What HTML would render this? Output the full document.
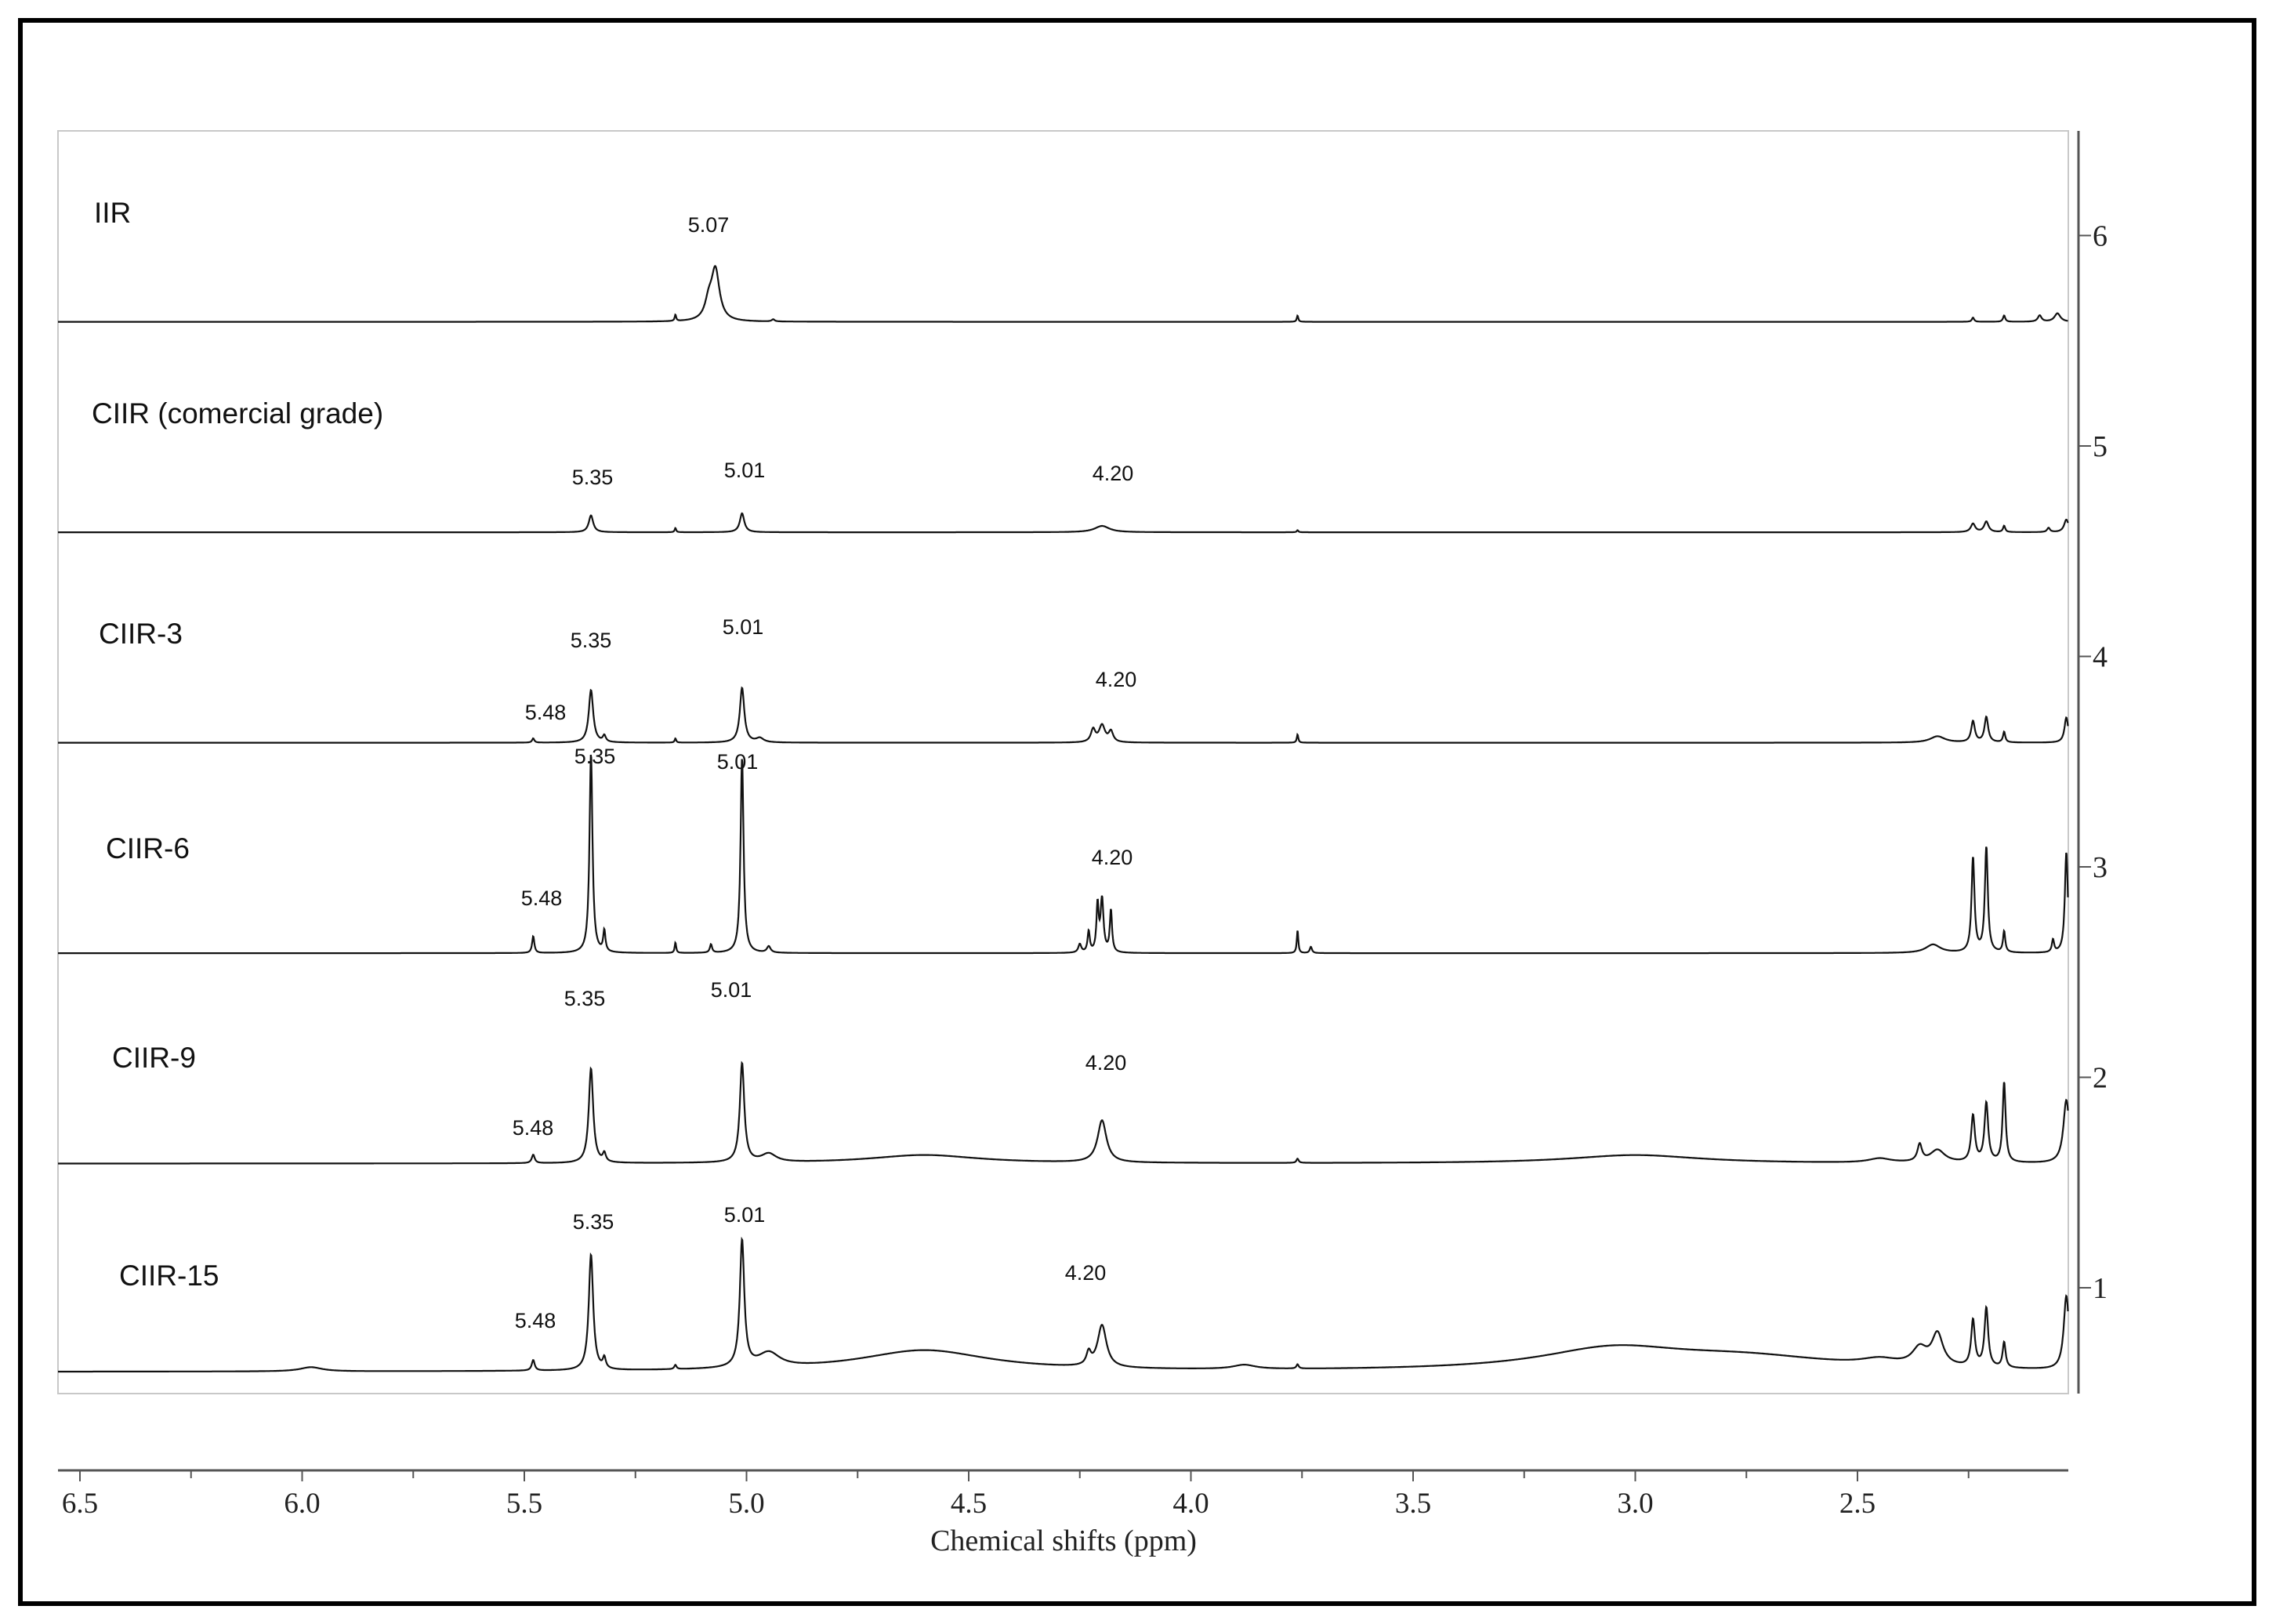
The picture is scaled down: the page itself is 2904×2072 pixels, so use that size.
<!DOCTYPE html>
<html><head><meta charset="utf-8">
<style>
html,body{margin:0;padding:0;background:#fff;}
svg{display:block;}
.ax{font-family:"Liberation Serif",serif;fill:#222;}
.lb{font-family:"Liberation Sans",sans-serif;fill:#111;}
</style></head>
<body>
<svg id="chart" width="2904" height="2072" viewBox="0 0 2904 2072">
<rect x="26" y="26" width="2850" height="2020" fill="none" stroke="#000" stroke-width="6"/>
<rect x="74" y="167" width="2565" height="1611" fill="none" stroke="#c8c8c8" stroke-width="2"/>
<g id="spectra"></g>
<g id="axes"></g>
<g id="labels"></g>
</svg>
<script>
// ---- data ----
const xTicks = [6.5, 6.0, 5.5, 5.0, 4.5, 4.0, 3.5, 3.0, 2.5];
const xTickLabels = ["6.5","6.0","5.5","5.0","4.5","4.0","3.5","3.0","2.5"];
const yTicks = [1,2,3,4,5,6];
const sampleNames = ["IIR","CIIR (comercial grade)","CIIR-3","CIIR-6","CIIR-9","CIIR-15"];
const baselines = [5.59, 4.59, 3.59, 2.59, 1.59, 0.6];
// peaks: [ppm, height (axis units), half-width (ppm)]
const peaksIIR = [[5.07,0.24,0.011],[5.085,0.08,0.01],[5.16,0.03,0.002],[4.94,0.01,0.004],[3.76,0.03,0.002],[2.24,0.02,0.003],[2.17,0.03,0.003],[2.09,0.03,0.005],[2.05,0.04,0.008]];
const peaksCIIR = [[5.35,0.08,0.006],[5.01,0.09,0.006],[5.16,0.02,0.002],[4.20,0.03,0.02],[3.76,0.01,0.002],[2.24,0.04,0.006],[2.21,0.05,0.006],[2.17,0.03,0.003],[2.07,0.02,0.004],[2.03,0.06,0.006]];
const peaksCIIR3 = [[5.48,0.02,0.003],[5.35,0.25,0.006],[5.32,0.03,0.004],[5.16,0.02,0.002],[5.01,0.26,0.006],[4.97,0.02,0.01],[4.22,0.06,0.006],[4.20,0.08,0.008],[4.18,0.05,0.006],[3.76,0.04,0.002],[2.32,0.03,0.02],[2.24,0.1,0.005],[2.21,0.12,0.005],[2.17,0.05,0.003],[2.03,0.12,0.005]];
const peaksCIIR6 = [[5.48,0.08,0.003],[5.35,0.95,0.004],[5.32,0.1,0.003],[5.16,0.05,0.002],[5.08,0.04,0.003],[5.01,0.93,0.004],[4.95,0.03,0.005],[4.23,0.1,0.003],[4.21,0.22,0.003],[4.20,0.25,0.004],[4.18,0.2,0.003],[4.25,0.04,0.004],[3.76,0.11,0.002],[3.73,0.03,0.003],[2.33,0.04,0.02],[2.24,0.45,0.004],[2.21,0.5,0.004],[2.17,0.1,0.003],[2.06,0.06,0.003],[2.03,0.48,0.004]];
const peaksCIIR9 = [[5.48,0.04,0.004],[5.35,0.45,0.006],[5.32,0.04,0.004],[5.01,0.47,0.006],[4.95,0.04,0.02],[4.6,0.04,0.15],[4.20,0.2,0.012],[3.76,0.02,0.003],[3.0,0.04,0.18],[2.45,0.02,0.03],[2.36,0.08,0.006],[2.32,0.06,0.02],[2.24,0.22,0.005],[2.21,0.28,0.005],[2.17,0.38,0.004],[2.03,0.3,0.008]];
const peaksCIIR15 = [[5.98,0.02,0.03],[5.48,0.05,0.004],[5.35,0.55,0.006],[5.32,0.05,0.004],[5.16,0.02,0.003],[5.01,0.6,0.006],[4.95,0.07,0.03],[4.6,0.1,0.18],[4.20,0.2,0.012],[4.23,0.06,0.006],[3.88,0.02,0.03],[3.76,0.02,0.003],[3.05,0.1,0.2],[2.75,0.06,0.25],[2.45,0.03,0.05],[2.36,0.08,0.02],[2.32,0.15,0.015],[2.24,0.22,0.005],[2.21,0.28,0.005],[2.17,0.12,0.004],[2.03,0.35,0.007]];
const allPeaks = [peaksIIR, peaksCIIR, peaksCIIR3, peaksCIIR6, peaksCIIR9, peaksCIIR15];
// peak annotation values per sample
const annIIR = ["5.07"];
const annCIIR = ["5.35","5.01","4.20"];
const annCIIR3 = ["5.48","5.35","5.01","4.20"];
const annCIIR6 = ["5.48","5.35","5.01","4.20"];
const annCIIR9 = ["5.48","5.35","5.01","4.20"];
const annCIIR15 = ["5.48","5.35","5.01","4.20"];

// ---- scales ----
const X0 = 102, PPX = 567;
function xs(p){ return X0 + (6.5 - p) * PPX; }
function ys(v){ return 1643 - (v - 1) * 268.5; }
const NS = "http://www.w3.org/2000/svg";
function mk(tag, attrs, parent){ const e = document.createElementNS(NS, tag); for (const k in attrs) e.setAttribute(k, attrs[k]); parent.appendChild(e); return e; }

const sp = document.getElementById('spectra');
const pMin = (6.5 - (2639 - X0) / PPX), pMax = 6.5 + (X0 - 74) / PPX;
allPeaks.forEach((peaks, i) => {
  let d = "";
  for (let p = pMax; p >= pMin; p -= 0.001) {
    let v = baselines[i];
    for (const pk of peaks) { const dx = p - pk[0]; v += pk[1] * pk[2] * pk[2] / (dx * dx + pk[2] * pk[2]); }
    d += (d ? "L" : "M") + xs(p).toFixed(1) + "," + ys(v).toFixed(1);
  }
  const path = mk('path', {d: d, fill: 'none', stroke: '#111', 'stroke-width': 2.2}, sp);
  
  
});

// ---- axes ----
const ax = document.getElementById('axes');
const xl = mk('line', {x1: 74, x2: 2639, y1: 1876, y2: 1876, stroke: '#555', 'stroke-width': 3}, ax);


for (let t = 6.5; t >= 2.05; t -= 0.25) {
  const major = Math.abs(t * 2 - Math.round(t * 2)) < 1e-6;
  const tk = mk('line', {x1: xs(t), x2: xs(t), y1: 1876, y2: major ? 1890 : 1886, stroke: '#555', 'stroke-width': 2}, ax);
  
  
}
xTicks.forEach((t, i) => {
  const tx = mk('text', {x: xs(t), y: 1930, 'text-anchor': 'middle', 'font-size': 37, class: 'ax'}, ax);
  tx.textContent = xTickLabels[i];
  
  
});
const xt = mk('text', {x: 1357, y: 1978, 'text-anchor': 'middle', 'font-size': 38, class: 'ax'}, ax);
xt.textContent = "Chemical shifts (ppm)";


const yl = mk('line', {x1: 2652, x2: 2652, y1: 167, y2: 1778, stroke: '#555', 'stroke-width': 3}, ax);


yTicks.forEach(t => {
  const tk = mk('line', {x1: 2652, x2: 2668, y1: ys(t), y2: ys(t), stroke: '#555', 'stroke-width': 2}, ax);
  
  
  const tx = mk('text', {x: 2670, y: ys(t) + 13, 'font-size': 38, class: 'ax'}, ax);
  tx.textContent = String(t);
  
  
});

// ---- labels ----
const lg = document.getElementById('labels');
const namePos = [[120,284],[117,540],[126,821],[135,1095],[143,1362],[152,1640]];
sampleNames.forEach((n, i) => {
  const tx = mk('text', {x: namePos[i][0], y: namePos[i][1], 'font-size': 37, class: 'lb'}, lg);
  tx.textContent = n;
  
  
});
const annAll = [annIIR, annCIIR, annCIIR3, annCIIR6, annCIIR9, annCIIR15];
const annPos = [
  [[904,296]],
  [[756,618],[950,609],[1420,613]],
  [[696,918],[754,826],[948,809],[1424,876]],
  [[691,1155],[759,974],[941,981],[1419,1103]],
  [[680,1448],[746,1283],[933,1272],[1411,1365]],
  [[683,1694],[757,1568],[950,1559],[1385,1633]]
];
annAll.forEach((arr, i) => arr.forEach((a, j) => {
  const tx = mk('text', {x: annPos[i][j][0], y: annPos[i][j][1], 'text-anchor': 'middle', 'font-size': 27, class: 'lb'}, lg);
  tx.textContent = a;
  
  
}));
</script>
</body></html>
